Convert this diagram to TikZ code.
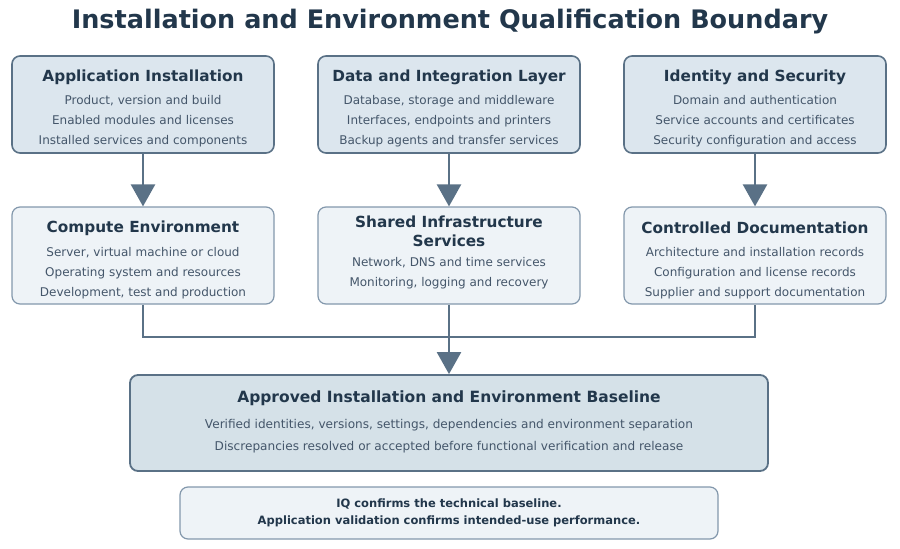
\documentclass[tikz,border=0pt]{standalone}
\usepackage{fontspec}
\setmainfont{DejaVu Sans}
\usetikzlibrary{arrows.meta,positioning}
\definecolor{upfill}{HTML}{DCE6EE}
\definecolor{lowfill}{HTML}{EEF3F7}
\definecolor{basefill}{HTML}{D5E1E8}
\definecolor{darkedge}{HTML}{5A7186}
\definecolor{lightedge}{HTML}{8398AC}
\definecolor{headtext}{HTML}{22374B}
\definecolor{bodytext}{HTML}{44566A}
\tikzset{
  box/.style={draw,rounded corners=8pt,minimum width=262pt,minimum height=97pt,inner sep=0},
  upbox/.style={box,fill=upfill,draw=darkedge,line width=1.6pt},
  lowbox/.style={box,fill=lowfill,draw=lightedge,line width=1.2pt},
  head/.style={font=\fontsize{15.3}{19}\selectfont\bfseries,text=headtext,align=center},
  body/.style={font=\fontsize{12}{20}\selectfont,text=bodytext,align=center},
  flow/.style={draw=darkedge,line width=2.5pt,-{Triangle[width=24pt,length=22pt]}},
  link/.style={draw=darkedge,line width=2.5pt}
}
\begin{document}
\begin{tikzpicture}[x=1pt,y=-1pt]
\useasboundingbox (0,0) rectangle (900,549);
%title
\node[font=\fontsize{25.5}{28}\selectfont\bfseries,text=headtext] (title) at (450,22) {Installation and Environment Qualification Boundary};
%top row
\node[upbox] (app) at (143,104.5) {};
\node[upbox] (data) at (449,104.5) {};
\node[upbox] (ident) at (755,104.5) {};
\node[head] at (143,77) {Application Installation};
\node[body] at (143,121) {Product, version and build\\Enabled modules and licenses\\Installed services and components};
\node[head] at (449,77) {Data and Integration Layer};
\node[body] at (449,121) {Database, storage and middleware\\Interfaces, endpoints and printers\\Backup agents and transfer services};
\node[head] at (755,77) {Identity and Security};
\node[body] at (755,121) {Domain and authentication\\Service accounts and certificates\\Security configuration and access};
%second row
\node[lowbox] (comp) at (143,255.5) {};
\node[lowbox] (infra) at (449,255.5) {};
\node[lowbox] (docs) at (755,255.5) {};
\node[head] at (143,228) {Compute Environment};
\node[body] at (143,273) {Server, virtual machine or cloud\\Operating system and resources\\Development, test and production};
\node[head] at (449,231.5) {Shared Infrastructure\\Services};
\node[body] at (449,273.5) {Network, DNS and time services\\Monitoring, logging and recovery};
\node[head] at (755,228) {Controlled Documentation};
\node[body] at (755,273) {Architecture and installation records\\Configuration and license records\\Supplier and support documentation};
%baseline
\node[box,fill=basefill,draw=darkedge,line width=1.8pt,minimum width=638pt,minimum height=96pt] (base) at (449,423) {};
\node[head,font=\fontsize{15.5}{19}\selectfont\bfseries] at (449,398) {Approved Installation and Environment Baseline};
\node[body,font=\fontsize{12.1}{22}\selectfont] at (449,436) {Verified identities, versions, settings, dependencies and environment separation\\Discrepancies resolved or accepted before functional verification and release};
\node[box,fill=lowfill,draw=lightedge,line width=1.2pt,minimum width=538pt,minimum height=52pt,
  font=\fontsize{11.5}{17}\selectfont\bfseries,text=headtext,align=center] (note) at (449,513)
  {IQ confirms the technical baseline.\\Application validation confirms intended-use performance.};
%arrows
\draw[flow] (app) -- (comp);
\draw[flow] (data) -- (infra);
\draw[flow] (ident) -- (docs);
\coordinate (join) at (449,337);
\draw[link] (comp.south) |- (join) -| (docs.south);
\draw[flow] (infra) -- (base);
\end{tikzpicture}
\end{document}
